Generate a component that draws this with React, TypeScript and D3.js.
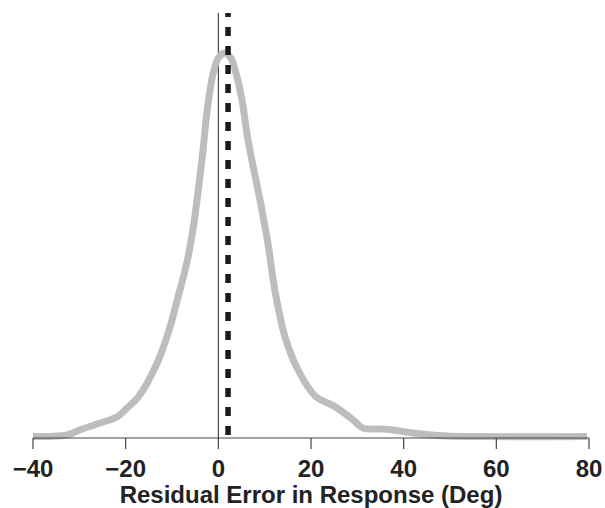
import * as d3 from "d3";
import { useEffect, useRef } from "react";

// residual error (deg) and relative density
const ERR = [
  -40, -36.3, -32.6, -29.2, -25.5, -21.8, -19.7, -17.3, -13.2, -10.6, -8.7, -6.8,
  -5.5, -4.6, -3.3, -2.4, -1.1, 0, 1.4, 2.7, 3.8, 5.1, 6.4, 9.0, 10.7, 12.2, 14.4,
  17.2, 20.9, 25.2, 29.1, 31.2, 36.4, 42.0, 49.3, 56.5, 67.3, 79.6,
];
const DENS = [
  0.004, 0.004, 0.008, 0.024, 0.039, 0.055, 0.078, 0.106, 0.195, 0.281, 0.366, 0.455,
  0.54, 0.618, 0.748, 0.852, 0.948, 0.987, 1.0, 0.987, 0.948, 0.878, 0.774, 0.618, 0.506,
  0.384, 0.262, 0.177, 0.109, 0.081, 0.047, 0.026, 0.023, 0.013, 0.005, 0.004, 0.003, 0.004,
];
const TICKS = [-40, -20, 0, 20, 40, 60, 80];
const MEAN_ERR = 2.1;
const X_LABEL = "Residual Error in Response (Deg)";

const W = 605;
const H = 508;
const margin = { left: 33, right: 16, top: 53, bottom: 70 };

export default function App() {
  const svgRef = useRef<SVGSVGElement>(null);

  useEffect(() => {
    const svg = d3.select(svgRef.current);
    svg.selectAll("*").remove();

    const x = d3.scaleLinear().domain([-40, 80]).range([margin.left, W - margin.right]);
    const y = d3.scaleLinear().domain([0, 1]).range([H - margin.bottom, margin.top]);
    const base = y(0);

    // zero reference line
    svg.append("line")
      .attr("x1", x(0)).attr("x2", x(0))
      .attr("y1", 13).attr("y2", base)
      .attr("stroke", "#222").attr("stroke-width", 1);

    // density curve
    const pts = ERR.map((e, i) => [e, DENS[i]] as [number, number]);
    svg.append("path")
      .datum(pts)
      .attr("fill", "none")
      .attr("stroke", "#bdbdbd")
      .attr("stroke-width", 7)
      .attr("stroke-linejoin", "round")
      .attr("d", d3.line<[number, number]>()
        .x((d) => x(d[0]))
        .y((d) => y(d[1]))
        .curve(d3.curveCatmullRom.alpha(0.5)));

    // mean error
    svg.append("line")
      .attr("x1", x(MEAN_ERR)).attr("x2", x(MEAN_ERR))
      .attr("y1", 13).attr("y2", base)
      .attr("stroke", "#1a1a1a").attr("stroke-width", 5.5)
      .attr("stroke-dasharray", "9,10")
      .attr("stroke-dashoffset", 5);

    // x axis
    const ax = svg.append("g").attr("transform", `translate(0,${base})`);
    ax.append("line")
      .attr("x1", x(-40)).attr("x2", x(80))
      .attr("stroke", "#444").attr("stroke-width", 1.2);
    ax.selectAll(".tick")
      .data(TICKS)
      .enter()
      .append("line")
      .attr("x1", (d) => x(d)).attr("x2", (d) => x(d))
      .attr("y1", 0).attr("y2", 11)
      .attr("stroke", "#444").attr("stroke-width", 1.2);
    ax.selectAll(".lbl")
      .data(TICKS)
      .enter()
      .append("text")
      .attr("x", (d) => x(d))
      .attr("y", 39)
      .attr("text-anchor", "middle")
      .style("font-family", "'Liberation Sans', Arial, sans-serif")
      .style("font-size", "24px")
      .style("font-weight", "bold")
      .style("fill", "#222")
      .text((d) => (d < 0 ? "\u2212" + Math.abs(d) : String(d)));

    svg.append("text")
      .attr("x", (x(-40) + x(80)) / 2)
      .attr("y", 503)
      .attr("text-anchor", "middle")
      .style("font-family", "'Liberation Sans', Arial, sans-serif")
      .style("font-size", "24px")
      .style("font-weight", "bold")
      .style("fill", "#222")
      .text(X_LABEL);
  }, []);

  return (
    <svg
      ref={svgRef}
      width={W}
      height={H}
      style={{ position: "absolute", left: 0, top: 0, background: "#fff" }}
    />
  );
}
